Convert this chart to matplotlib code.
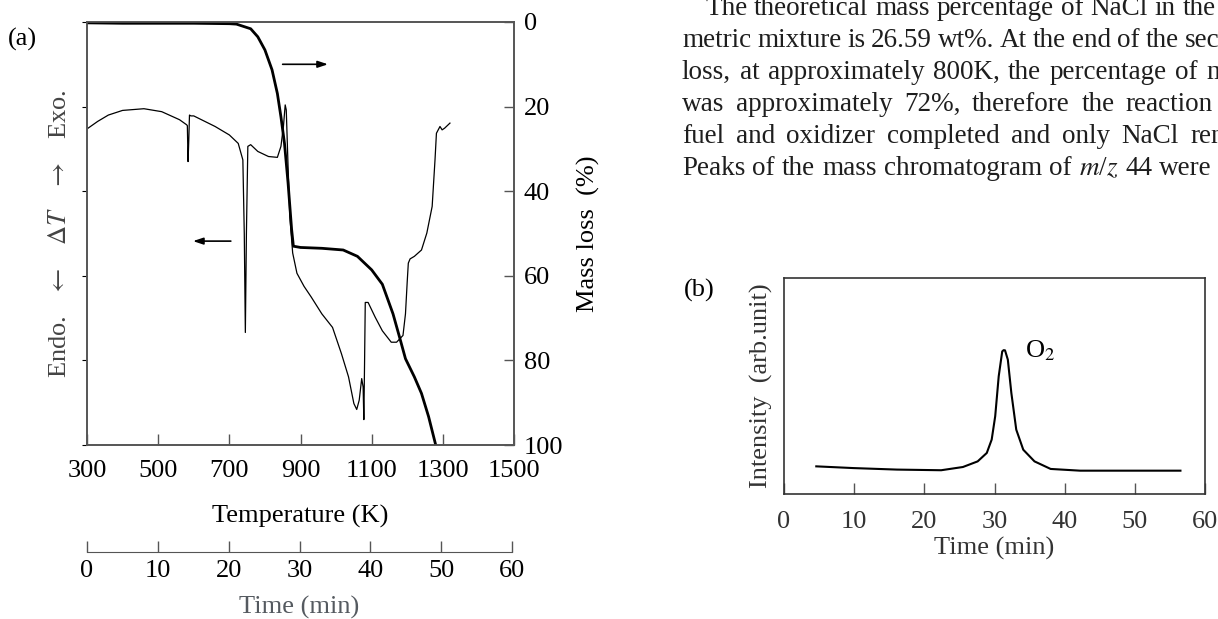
import matplotlib
matplotlib.use("Agg")
import matplotlib.pyplot as plt

plt.rcParams['font.family'] = ['Liberation Serif', 'DejaVu Serif']
plt.rcParams['mathtext.fontset'] = 'stix'

# (a) TG curve: mass loss (%) against temperature (K)
tg_temp = [300, 400, 500, 600, 700, 720, 760, 780, 800, 820, 835, 845, 855, 865,
           875, 880, 900, 960, 1020, 1060, 1100, 1130, 1160, 1180, 1195, 1220,
           1240, 1260, 1280, 1290]
tg_loss = [0.2, 0.3, 0.3, 0.3, 0.4, 0.5, 1.6, 3.5, 6.6, 11.3, 16.9, 22.4, 28.7, 38,
           49, 53, 53.3, 53.5, 53.9, 55.4, 58.6, 62, 69, 75, 79.6, 83.9,
           87.8, 93.3, 100, 104]

# (a) DTA curve, arbitrary units (up = exo)
dta_temp = [303, 330, 360, 400, 460, 510, 560, 580, 582, 584, 586, 588, 592,
            600, 660, 700, 725, 738, 742, 745, 748, 752, 760, 780, 810, 835,
            845, 852, 857, 860, 865, 870, 878, 890, 910, 930, 960, 990, 1015,
            1035, 1050, 1058, 1065, 1072, 1076, 1078, 1080, 1082, 1090, 1110,
            1130, 1155, 1170, 1188, 1195, 1200, 1203, 1208, 1220, 1240, 1255,
            1270, 1278, 1282, 1292, 1298, 1305, 1320]
dta_signal = [74.9, 76.5, 78, 79.1, 79.5, 78.8, 76.9, 75.7, 75.5, 67, 72, 78, 77.8,
              77.8, 75.3, 73.3, 71.3, 67.4, 50, 26.6, 50, 70.6, 71, 69.4, 68.2, 68,
              70.6, 75.3, 80.4, 79.2, 66, 54, 45.4, 40.6, 37.5, 35, 31, 27.8, 21.6,
              16.1, 9.8, 8.4, 10.6, 15.7, 13.7, 6, 19.2, 33.7, 33.7, 30.2,
              27, 24.3, 24.3, 25.9, 31, 38.75, 43, 44, 44.6, 46.1, 50.1,
              56.4, 67.4, 73.7, 75.3, 74.5, 74.9, 76.1]

temp_ticks = [300, 500, 700, 900, 1100, 1300, 1500]
loss_ticks = [0, 20, 40, 60, 80, 100]
time_ticks = [0, 10, 20, 30, 40, 50, 60]

# (b) mass chromatogram of O2
ms_time = [4.6, 9.9, 16.1, 22.4, 25.5, 27.6, 28.9, 29.6, 30.1, 30.6, 31.1, 31.3,
           31.5, 31.9, 32.4, 33.1, 34.1, 35.7, 38.0, 42.2, 50, 56.5]
ms_intensity = [12.8, 12.0, 11.3, 11.0, 12.5, 15.1, 19, 25.2, 36, 54.5, 66, 66.6,
                66.5, 62.2, 46.8, 29.8, 20.5, 15.1, 11.6, 10.8, 10.8, 10.8]

# body text beside the figure, justified lines cut by the page edge
text_lines = [
    "The theoretical mass percentage of NaCl in the",
    "metric mixture is 26.59 wt%. At the end of the second",
    "loss, at approximately 800K, the percentage of mass",
    "was approximately 72%, therefore the reaction",
    "fuel and oxidizer completed and only NaCl remained",
    "Peaks of the mass chromatogram of $m$/$z$ 44 were",
]
line_start = [705, 682, 682, 682, 682, 682]
line_end = [1216, 1260, 1261, 1213, 1291, 1212]
line_base = [15, 47, 79, 111, 143, 175]

W, H = 1218, 619
spine_col = '#555555'
fig = plt.figure(figsize=(W / 100, H / 100), dpi=100)


def frame(x0, y0, x1, y1):
    # pixel box -> figure fraction rect
    return [x0 / W, 1 - y1 / H, (x1 - x0) / W, (y1 - y0) / H]


# ---- panel (a)
ax = fig.add_axes(frame(87, 22, 514, 445))
ax.plot(dta_temp, dta_signal, color='black', lw=0.9)
ax.set_xlim(300, 1500)
ax.set_ylim(0, 100)
ax.set_xticks(temp_ticks)
ax.tick_params(axis='x', direction='in', length=8, width=1, color=spine_col,
               labelsize=19, pad=11)
ax.tick_params(axis='y', left=False, labelleft=False)
ax.set_xlabel('Temperature (K)', fontsize=19, labelpad=16)
ax.set_ylabel(r'Endo.   $\leftarrow$   $\Delta T$   $\rightarrow$   Exo.',
              fontsize=19, color='#444444', labelpad=8)

ax2 = ax.twinx()
ax2.plot(tg_temp, tg_loss, color='black', lw=2.0)
ax2.set_ylim(100, 0)
ax2.set_xlim(300, 1500)
ax2.set_yticks(loss_ticks)
ax2.tick_params(axis='y', direction='in', length=7, width=1, color=spine_col,
                labelsize=19, pad=7)
ax2.set_ylabel('Mass loss  (%)', fontsize=19, labelpad=10)

for a in (ax, ax2):
    for s in a.spines.values():
        s.set_color(spine_col)
        s.set_linewidth(1.2)

ax.annotate('', xy=(985, 90), xytext=(842, 90),
            arrowprops=dict(arrowstyle='-|>,head_length=0.6,head_width=0.2',
                            color='black', lw=1.2))
ax.annotate('', xy=(590, 48.2), xytext=(712, 48.2),
            arrowprops=dict(arrowstyle='-|>,head_length=0.6,head_width=0.2',
                            color='black', lw=1.2))

# time scale under panel (a)
tax = fig.add_axes(frame(87, 551, 512, 552))
tax.set_xlim(0, 60)
tax.set_xticks(time_ticks)
tax.set_yticks([])
for side in ('left', 'right', 'top'):
    tax.spines[side].set_visible(False)
tax.spines['bottom'].set_color(spine_col)
tax.tick_params(axis='x', direction='in', length=8, width=1, color=spine_col,
                labelsize=19, pad=6)
tax.set_xlabel('Time (min)', fontsize=19, color='#555a60', labelpad=10)

fig.text(22 / W, 1 - 39 / H, '(a)', fontsize=19, va='center', ha='center')

# ---- panel (b)
bx = fig.add_axes(frame(784, 278, 1205, 494))
bx.plot(ms_time, ms_intensity, color='black', lw=1.5)
bx.set_xlim(0, 60)
bx.set_ylim(0, 100)
bx.set_xticks(time_ticks)
bx.set_yticks([])
bx.tick_params(axis='x', direction='in', length=8, width=1, color=spine_col,
               labelsize=19, labelcolor='#333333', pad=12)
bx.set_xlabel('Time (min)', fontsize=19, color='#333333', labelpad=3)
bx.set_ylabel('Intensity  (arb.unit)', fontsize=19, color='#333333', labelpad=8)
for s in bx.spines.values():
    s.set_color('#333333')
    s.set_linewidth(1.2)
bx.text(34.3, 66.2, r'O$_2$', fontsize=19, va='center')

fig.text(699 / W, 1 - 290 / H, '(b)', fontsize=19, va='center', ha='center')

# ---- body text: place words so each line spans its justified width
renderer = fig.canvas.get_renderer()
for line, x0, x1, yb in zip(text_lines, line_start, line_end, line_base):
    words = line.split(' ')
    items = [fig.text(0, 1 - yb / H, w, fontsize=19.5, va='baseline',
                      color='#1e1e1e') for w in words]
    widths = [t.get_window_extent(renderer).width for t in items]
    gap = (x1 - x0 - sum(widths)) / max(len(words) - 1, 1)
    x = x0
    for t, w in zip(items, widths):
        t.set_x(x / W)
        x += w + gap

fig.savefig('out.png', dpi=100)
